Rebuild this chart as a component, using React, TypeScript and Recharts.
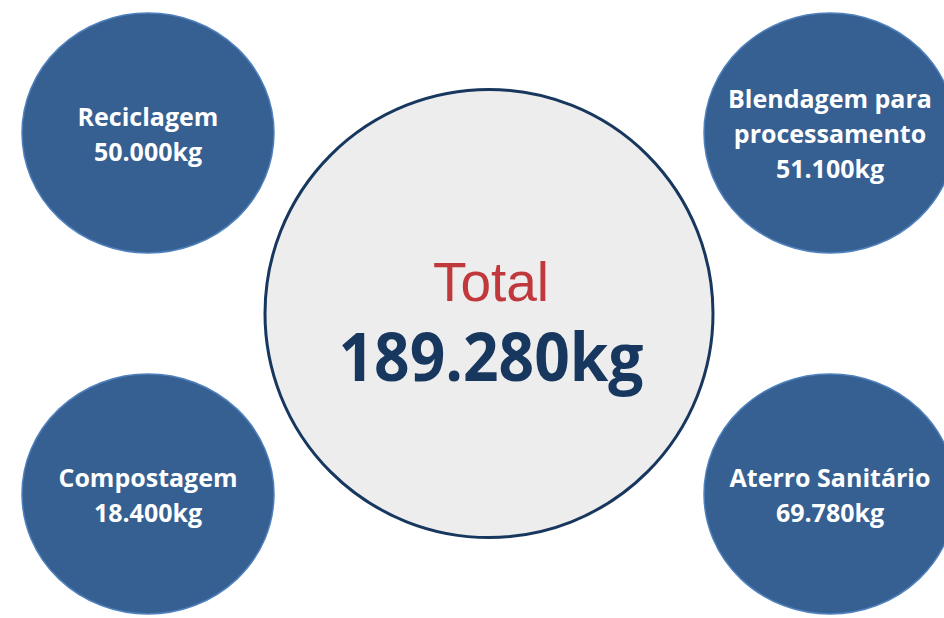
import React from "react";
import { ScatterChart, Scatter, XAxis, YAxis } from "recharts";

// ---- data ----
const destinations: string[][] = [
  ["Reciclagem"],
  ["Blendagem para", "processamento"],
  ["Compostagem"],
  ["Aterro Sanitário"],
];
const destinationKg: number[] = [50000, 51100, 18400, 69780];
const destinationCol: string[] = ["esquerda", "direita", "esquerda", "direita"];
const destinationRow: string[] = ["cima", "cima", "baixo", "baixo"];

const totalLabel = "Total";
const totalKg = 189280;
const totalCol = "centro";
const totalRow = "meio";

const fmtKg = (n: number) =>
  n.toString().replace(/\B(?=(\d{3})+(?!\d))/g, ".") + "kg";

// table built from the arrays (order keeps category order: esquerda, centro, direita / cima, meio, baixo)
const nodes = [
  { kind: "dest", lines: destinations[0], kg: destinationKg[0], col: destinationCol[0], row: destinationRow[0] },
  { kind: "total", lines: [totalLabel], kg: totalKg, col: totalCol, row: totalRow },
  { kind: "dest", lines: destinations[1], kg: destinationKg[1], col: destinationCol[1], row: destinationRow[1] },
  { kind: "dest", lines: destinations[2], kg: destinationKg[2], col: destinationCol[2], row: destinationRow[2] },
  { kind: "dest", lines: destinations[3], kg: destinationKg[3], col: destinationCol[3], row: destinationRow[3] },
];

const W = 944;
const H = 618;

const renderNode = (props: any) => {
  const { cx, cy, payload } = props;
  if (cx == null || cy == null || !payload) return <g />;
  if (payload.kind === "total") {
    return (
      <g>
        <circle cx={cx} cy={cy} r={224} fill="#ededed" stroke="#17375e" strokeWidth={3} />
        <text
          x={cx + 2}
          y={cy - 13}
          textAnchor="middle"
          fontFamily="'Liberation Sans', Arial, sans-serif"
          fontSize={55}
          fill="#c0383b"
        >
          {payload.lines[0]}
        </text>
        <text
          x={cx + 2}
          y={cy + 67}
          textAnchor="middle"
          fontFamily="'Open Sans', sans-serif"
          fontWeight={700}
          fontSize={66}
          textLength={305}
          lengthAdjust="spacingAndGlyphs"
          fill="#17375e"
        >
          {fmtKg(payload.kg)}
        </text>
      </g>
    );
  }
  const lines: string[] = [...payload.lines, fmtKg(payload.kg)];
  const n = lines.length;
  return (
    <g>
      <ellipse cx={cx} cy={cy} rx={126} ry={120} fill="#376092" stroke="#4f81bd" strokeWidth={1.5} />
      {lines.map((t, i) => (
        <text
          key={i}
          x={cx}
          y={cy + 10 + (i - (n - 1) / 2) * 35}
          textAnchor="middle"
          fontFamily="'Open Sans', sans-serif"
          fontWeight={700}
          fontSize={25}
          fill="#ffffff"
        >
          {t}
        </text>
      ))}
    </g>
  );
};

export default function App() {
  return (
    <div style={{ position: "absolute", left: 0, top: 0, width: W, height: H, background: "#ffffff" }}>
      <ScatterChart width={W} height={H} margin={{ top: 0, right: 0, bottom: 0, left: 0 }}>
        <XAxis
          type="category"
          dataKey="col"
          scale="point"
          allowDuplicatedCategory={false}
          padding={{ left: 148, right: 114 }}
          hide
        />
        <YAxis
          type="category"
          dataKey="row"
          scale="point"
          allowDuplicatedCategory={false}
          reversed
          padding={{ top: 133, bottom: 124 }}
          hide
        />
        <Scatter data={nodes} shape={renderNode} isAnimationActive={false} />
      </ScatterChart>
    </div>
  );
}
